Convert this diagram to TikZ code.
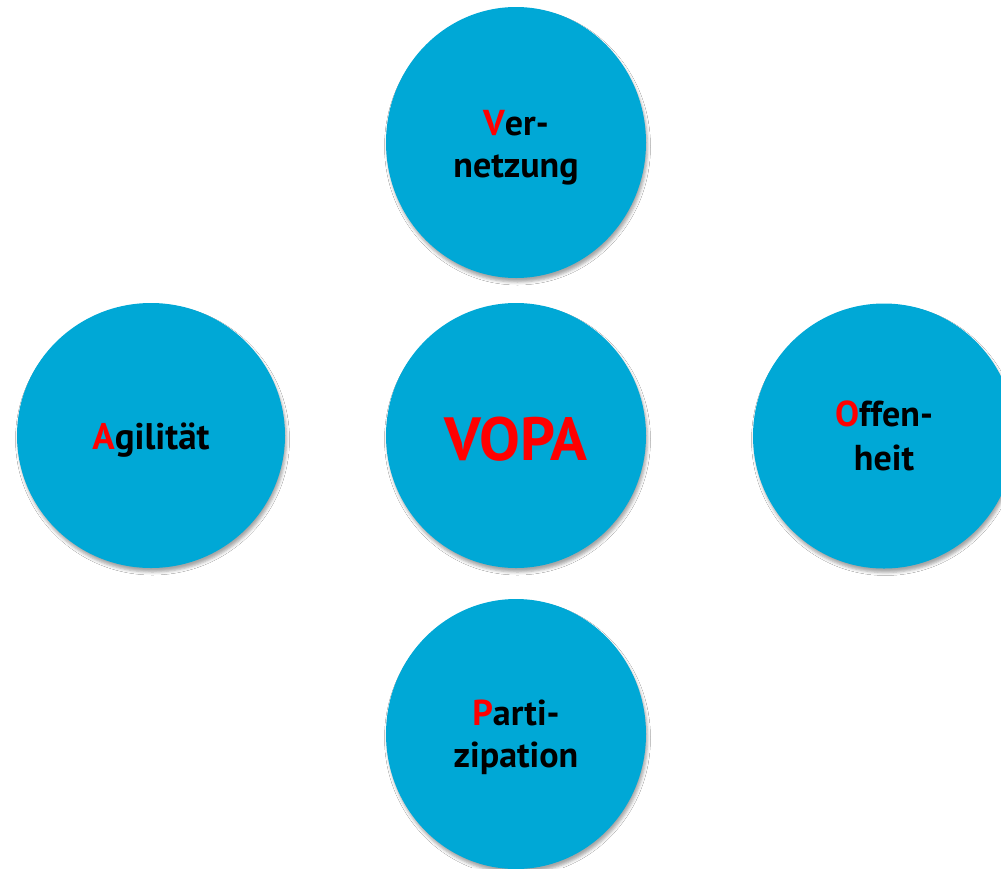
\documentclass[tikz,border=0pt]{standalone}
\usepackage{fontspec}
\setmainfont{PT Sans}
\usetikzlibrary{shapes.geometric,shadows.blur}
\definecolor{discblue}{RGB}{0,168,214}
\definecolor{initred}{RGB}{255,0,0}
\tikzset{
  disc/.style={ellipse, fill=discblue, draw=none, inner sep=0pt,
    blur shadow={shadow xshift=1.5pt, shadow yshift=-4pt, shadow blur radius=3pt, shadow opacity=35}},
  txt/.style={anchor=base, align=center, inner sep=0pt, text=black,
    font=\fontsize{36}{42}\selectfont\bfseries}
}
\newcommand{\ini}[1]{\textcolor{initred}{#1}}
\begin{document}
\begin{tikzpicture}[x=1pt,y=-1pt]
\useasboundingbox (0,0) rectangle (1001,868);
\fill[white] (0,0) rectangle (1001,868);
\clip (0,0) rectangle (1001,868);
\node[disc, minimum width=260pt, minimum height=271pt] (v) at (516,142.5) {};
\node[disc, minimum width=260pt, minimum height=265pt] (c) at (516,435.5) {};
\node[disc, minimum width=268pt, minimum height=265pt] (a) at (151,435.5) {};
\node[disc, minimum width=262pt, minimum height=265pt] (o) at (884,436) {};
\node[disc, minimum width=260pt, minimum height=270pt] (p) at (516,734) {};
\node[txt] (vt) at ([yshift=-34.5pt]v.center) {\ini{V}er-\\netzung};
\node[txt, font=\fontsize{61}{70}\selectfont\bfseries, text=initred] (ct) at ([yshift=-24.5pt]c.center) {VOPA};
\node[txt, font=\fontsize{37}{42}\selectfont\bfseries] (at) at ([yshift=-13.5pt]a.center) {\ini{A}gilität};
\node[txt, font=\fontsize{36}{44}\selectfont\bfseries] (ot) at ([yshift=-34pt]o.center) {\ini{O}ffen-\\heit};
\node[txt] (pt) at ([yshift=-33pt]p.center) {\ini{P}arti-\\zipation};
\end{tikzpicture}
\end{document}
